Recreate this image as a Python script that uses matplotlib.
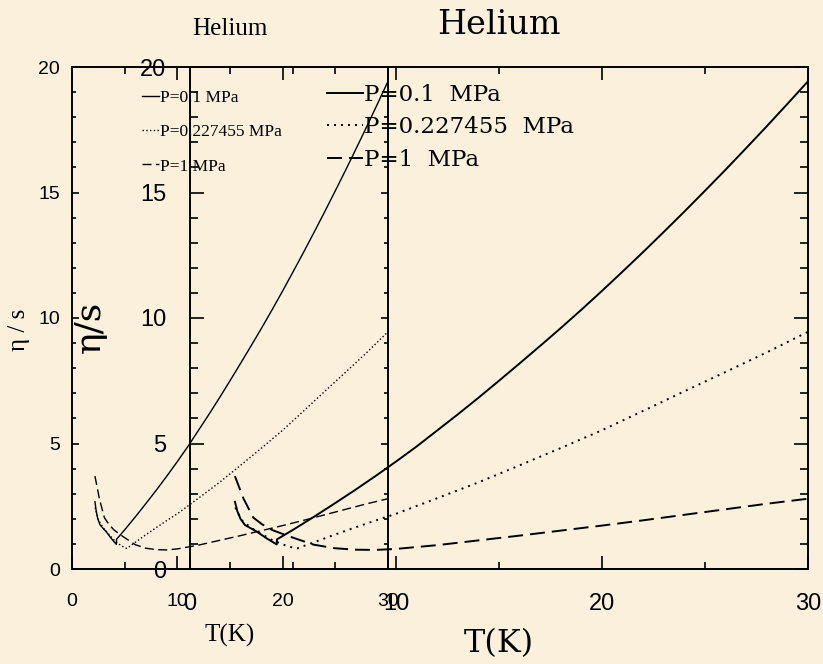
import matplotlib
matplotlib.use('Agg')
import matplotlib.pyplot as plt
from matplotlib.ticker import MultipleLocator

# eta/s of helium along three isobars (same data drawn on two overlapping frames)
T_p01 = [2.18, 2.3, 2.45, 2.67, 3.24, 3.72, 4.21, 4.22, 5, 6, 7, 8, 9, 10, 11, 12, 13,
         14, 15, 16, 17, 18, 19, 20, 21, 22, 23, 24, 25, 26, 27, 28, 29, 30]
v_p01 = [2.68, 2.3, 2.0, 1.75, 1.49, 1.22, 0.98, 1.18, 1.56, 2.07, 2.6, 3.14, 3.7, 4.28,
         4.88, 5.52, 6.16, 6.82, 7.5, 8.19, 8.89, 9.6, 10.33, 11.08, 11.85, 12.63, 13.43,
         14.24, 15.07, 15.91, 16.77, 17.64, 18.53, 19.43]

T_pc = [2.2, 2.5, 3, 3.5, 4, 4.5, 5, 5.2, 6, 7, 8, 9, 10, 12, 14, 16, 18, 20, 22, 24,
        26, 28, 30]
v_pc = [2.45, 1.95, 1.62, 1.38, 1.15, 0.98, 0.85, 0.82, 1.06, 1.36, 1.65, 1.93, 2.2, 2.82,
        3.45, 4.13, 4.82, 5.53, 6.3, 7.08, 7.85, 8.63, 9.45]

T_p1 = [2.18, 2.6, 3.07, 3.5, 4, 4.85, 6, 7, 8, 9, 10, 12, 14, 16, 18, 20, 22, 24, 26,
        28, 30]
v_p1 = [3.7, 2.8, 2.05, 1.78, 1.55, 1.29, 0.97, 0.83, 0.77, 0.76, 0.8, 0.95, 1.14, 1.33,
        1.53, 1.73, 1.94, 2.16, 2.38, 2.6, 2.8]

labels_big = ['P=0.1  MPa', 'P=0.227455  MPa', 'P=1  MPa']
labels_small = ['P=0.1 MPa', 'P=0.227455 MPa', 'P=1 MPa']

bg = '#faf0dc'
W, H = 823, 664

fig = plt.figure(figsize=(W / 100, H / 100), dpi=100, facecolor=bg)
ax_s = fig.add_axes([72 / W, 1 - 569 / H, 316 / W, 502 / H])
ax_b = fig.add_axes([190 / W, 1 - 569 / H, 618 / W, 502 / H])

serif_b = 'DejaVu Serif'
serif_s = 'Liberation Serif'
sans_b = 'Liberation Sans'
sans_s = ['Liberation Sans Narrow', 'Liberation Sans']

# ---- small (squeezed) frame
lw = 1.0
ax_s.plot(T_p01, v_p01, color='k', lw=lw, label=labels_small[0])
ax_s.plot(T_pc, v_pc, color='k', lw=lw, linestyle=(0, (1, 1.7)), label=labels_small[1])
ax_s.plot(T_p1, v_p1, color='k', lw=lw, linestyle=(0, (6.5, 3.2)), label=labels_small[2])

# ---- big frame
lw = 1.4
ax_b.plot(T_p01, v_p01, color='k', lw=lw, label=labels_big[0])
ax_b.plot(T_pc, v_pc, color='k', lw=lw, linestyle=(0, (1, 2.6)), label=labels_big[1])
ax_b.plot(T_p1, v_p1, color='k', lw=lw, linestyle=(0, (7.7, 3.6)), label=labels_big[2])

for ax in (ax_s, ax_b):
    ax.set_facecolor('none')
    ax.set_xlim(0, 30)
    ax.set_ylim(0, 20)
    ax.xaxis.set_major_locator(MultipleLocator(10))
    ax.xaxis.set_minor_locator(MultipleLocator(5))
    ax.yaxis.set_major_locator(MultipleLocator(5))
    ax.yaxis.set_minor_locator(MultipleLocator(1))
    ax.tick_params(which='both', direction='in', top=True, right=True, width=1.2)
    ax.tick_params(axis='x', which='major', length=9.4, pad=17)
    ax.tick_params(axis='x', which='minor', length=5)
    for sp in ax.spines.values():
        sp.set_linewidth(1.4)

ax_b.tick_params(axis='y', which='major', length=10, pad=17)
ax_b.tick_params(axis='y', which='minor', length=5.8)
ax_s.tick_params(axis='y', which='major', length=5, pad=8.5)
ax_s.tick_params(axis='y', which='minor', length=3)

for t in ax_b.get_xticklabels() + ax_b.get_yticklabels():
    t.set_fontfamily(sans_b)
    t.set_fontsize(17)
for t in ax_s.get_xticklabels() + ax_s.get_yticklabels():
    t.set_fontfamily(sans_s)
    t.set_fontsize(14)

ax_b.set_title('Helium', family=serif_b, fontsize=24, pad=24)
ax_s.set_title('Helium', family=serif_s, fontsize=18, pad=23)
ax_b.set_xlabel('T(K)', family=serif_b, fontsize=23, labelpad=10)
ax_s.set_xlabel('T(K)', family=serif_s, fontsize=18, labelpad=10)
ax_b.set_ylabel('η/s', family=serif_b, fontsize=26, va='center')
ax_b.yaxis.set_label_coords(-0.162, 0.482)
ax_s.set_ylabel('η / s', family=serif_s, fontsize=18, va='center')
ax_s.yaxis.set_label_coords(-0.168, 0.476)

ax_s.legend(loc='upper left', bbox_to_anchor=(0.2215, 0.955), frameon=False,
            prop={'family': serif_s, 'size': 12.5}, handlelength=0.96,
            handletextpad=0.1, labelspacing=1.05, borderpad=0, borderaxespad=0)
ax_b.legend(loc='upper left', bbox_to_anchor=(0.2217, 0.966), frameon=False,
            prop={'family': serif_b, 'size': 16.5}, handlelength=1.58,
            handletextpad=0.05, labelspacing=0.45, borderpad=0, borderaxespad=0)

fig.savefig('out.png', dpi=100, facecolor=bg)
